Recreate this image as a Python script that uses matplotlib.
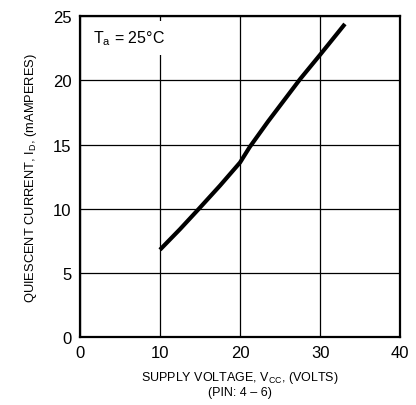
import matplotlib
matplotlib.use("Agg")
import matplotlib.pyplot as plt

plt.rcParams['font.family'] = ['Liberation Sans', 'DejaVu Sans']
plt.rcParams['mathtext.fontset'] = 'custom'
plt.rcParams['mathtext.rm'] = 'Liberation Sans'

# curve
vcc = [10, 12.5, 14.8, 17.5, 20, 21.2, 23.5, 27.5, 30, 33.1]
i_d = [6.8, 8.4, 9.95, 11.8, 13.6, 14.8, 16.8, 20.1, 22.0, 24.4]

x_ticks = [0, 10, 20, 30, 40]
y_ticks = [0, 5, 10, 15, 20, 25]

fig = plt.figure(figsize=(4.16, 4.06), dpi=100)
ax = fig.add_axes([0.192, 0.1675, 0.77, 0.79])

ax.plot(vcc, i_d, color='black', lw=3.0, solid_capstyle='butt', zorder=3)

ax.set_xlim(0, 40)
ax.set_ylim(0, 25)
ax.set_xticks(x_ticks)
ax.set_yticks(y_ticks)
ax.grid(True, color='black', lw=0.9)
ax.tick_params(length=0, labelsize=12, pad=6)
for s in ax.spines.values():
    s.set_linewidth(1.6)

ax.text(1.6, 23.3, r'T$_{\mathregular{a}}$ = 25°C', fontsize=11.5, va='center',
        bbox=dict(facecolor='white', edgecolor='none', pad=5.5), zorder=2)

ax.set_xlabel('SUPPLY VOLTAGE, V$_{\\mathregular{CC}}$, (VOLTS)\n(PIN: 4 – 6)',
              fontsize=9, labelpad=6, linespacing=1.2)
ax.set_ylabel('QUIESCENT CURRENT, I$_{\\mathregular{D}}$, (mAMPERES)', fontsize=9.3, labelpad=10)

fig.savefig('out.png', dpi=100)
